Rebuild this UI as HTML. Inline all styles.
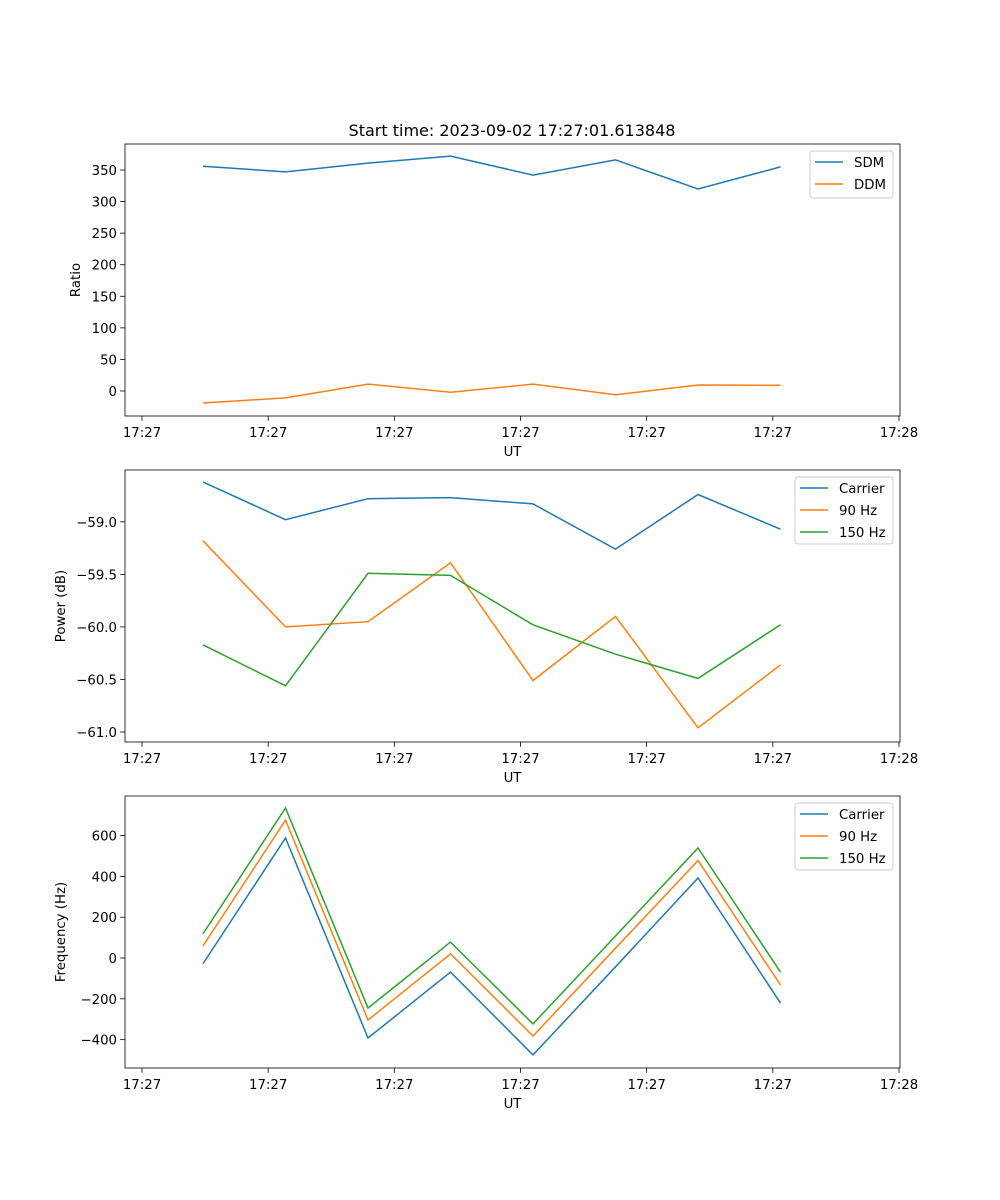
<!DOCTYPE html>
<html><head><meta charset="utf-8"><style>
body{margin:0;background:#fff}
svg{display:block;font-family:"DejaVu Sans","Liberation Sans",sans-serif}
</style></head><body>
<svg id="fig" width="1000" height="1200" viewBox="0 0 1000 1200"></svg>
<script>
const xTickVals=[0,10,20,30,40,50,60];
const xTickLabels=["17:27","17:27","17:27","17:27","17:27","17:27","17:28"];
const tSec=[4.83,11.37,17.91,24.45,30.99,37.53,44.07,50.61];
const sdm=[356,347,361,372,342,366,320,355];
const ddm=[-19,-11,11,-2,11,-6,9.5,9];
const pCarrier=[-58.62,-58.98,-58.78,-58.77,-58.83,-59.26,-58.74,-59.07];
const p90=[-59.18,-60.0,-59.95,-59.39,-60.51,-59.90,-60.96,-60.36];
const p150=[-60.17,-60.56,-59.49,-59.51,-59.98,-60.26,-60.49,-59.98];
const fCarrier=[-29,588,-392,-69,-475,-43,392,-221];
const f90=[59,676,-304,20,-382,48,478,-132];
const f150=[118,735,-245,78,-323,108,539,-69];
const yTicks1=[0,50,100,150,200,250,300,350];
const yTicks2=[-61.0,-60.5,-60.0,-59.5,-59.0];
const yTicks3=[-400,-200,0,200,400,600];
const C=["#1f77b4","#ff7f0e","#2ca02c"];
const NS="http://www.w3.org/2000/svg";
const FS=13.3;
const svg=document.getElementById('fig');
function el(t,a,p){const e=document.createElementNS(NS,t);for(const k in a)e.setAttribute(k,a[k]);(p||svg).appendChild(e);return e;}
const X0=125,X1=900;
function xs(v){return 142+(v-0)*(899-142)/60;}
function panel(name,top,ymin,ymax,yticks,fmt,ylabel,series,legendNames,legX,legW){
  const bot=top+272;
  const g=el('g',{});
  
  
  const ys=v=>bot-(v-ymin)/(ymax-ymin)*272;
  xTickVals.forEach((v,i)=>{
    const x=xs(v);
    el('line',{x1:x,x2:x,y1:bot,y2:bot+4.9,stroke:'#000','stroke-width':0.8},g);
    const t=el('text',{x:x,y:bot+21,'font-size':FS,'text-anchor':'middle'},g);
    
    
    t.textContent=xTickLabels[i];
  });
  const xl=el('text',{x:(X0+X1)/2,y:bot+40,'font-size':FS,'text-anchor':'middle'},g);
  
  
  xl.textContent='UT';
  yticks.forEach(v=>{
    const y=ys(v);
    el('line',{x1:X0,x2:X0-4.9,y1:y,y2:y,stroke:'#000','stroke-width':0.8},g);
    const t=el('text',{x:X0-8,y:y+5,'font-size':FS,'text-anchor':'end'},g);
    
    
    t.textContent=fmt(v);
  });
  const yl=el('text',{x:0,y:0,'font-size':FS,'text-anchor':'middle',transform:`translate(${name==='ratio-panel'?80:65},${top+136}) rotate(-90)`},g);
  
  
  yl.textContent=ylabel;
  series.forEach((s,si)=>{
    const pts=s.map((v,i)=>xs(tSec[i]).toFixed(1)+','+ys(v).toFixed(1)).join(' ');
    const pl=el('polyline',{points:pts,fill:'none',stroke:C[si],'stroke-width':1.5},g);
    
    
  });
  el('rect',{x:X0,y:top,width:X1-X0,height:272,fill:'none',stroke:'#000','stroke-width':0.8},g);
  const lh=7+legendNames.length*20;
  const lg=el('g',{},g);
  
  
  el('rect',{x:legX,y:top+7,width:legW,height:lh,rx:3,fill:'#fff',stroke:'#ccc','stroke-width':1},lg);
  legendNames.forEach((n,i)=>{
    const y=top+18+i*22;
    el('line',{x1:legX+5,x2:legX+33,y1:y,y2:y,stroke:C[i],'stroke-width':1.5},lg);
    const t=el('text',{x:legX+44,y:y+5,'font-size':FS},lg);
    
    
    t.textContent=n;
  });
}
const title=el('text',{x:512,y:136,'font-size':16,'text-anchor':'middle'});


title.textContent='Start time: 2023-09-02 17:27:01.613848';
panel('ratio-panel',144,-39.6,391.2,yTicks1,v=>v<0?'\u2212'+(-v):String(v),'Ratio',[sdm,ddm],['SDM','DDM'],810,83);
panel('power-panel',470,-61.095,-58.507,yTicks2,v=>'\u2212'+(-v).toFixed(1),'Power (dB)',[pCarrier,p90,p150],['Carrier','90 Hz','150 Hz'],795,98);
panel('frequency-panel',796,-539,794,yTicks3,v=>v<0?'\u2212'+(-v):String(v),'Frequency (Hz)',[fCarrier,f90,f150],['Carrier','90 Hz','150 Hz'],795,98);
</script>
</body></html>
